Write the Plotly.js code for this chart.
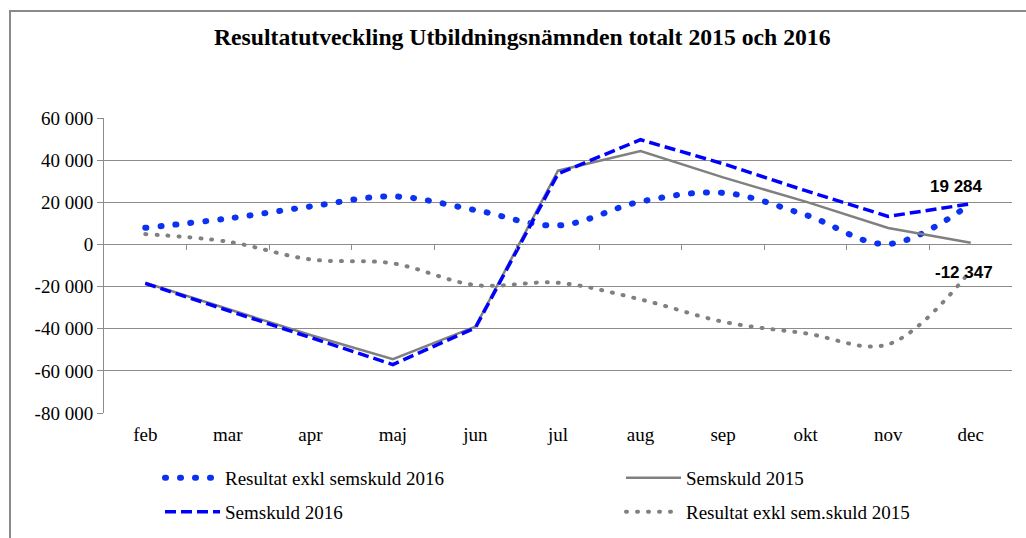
<!DOCTYPE html>
<html>
<head>
<meta charset="utf-8">
<script src="https://cdn.plot.ly/plotly-3.0.1.min.js"></script>
<style>
  html, body { margin: 0; padding: 0; background: #fff; }
  #wrap { position: relative; width: 1026px; height: 538px; overflow: hidden; }
  #chart { width: 1026px; height: 538px; }
  #frame { position: absolute; left: 9px; top: 10px; width: 1100px; height: 600px;
           border-left: 2px solid #8a8a8a; border-top: 2px solid #8a8a8a; pointer-events: none; }
  path.js-line[style*="dasharray: 1px"] { stroke-linecap: round; }
</style>
</head>
<body>
<div id="wrap">
  <div id="chart"></div>
  <div id="frame"></div>
</div>
<script>
const months = ['feb', 'mar', 'apr', 'maj', 'jun', 'jul', 'aug', 'sep', 'okt', 'nov', 'dec'];
const resultat2016 = [7900, 12300, 18000, 22800, 16300, 9000, 20300, 24500, 14000, 200, 19284];
const semskuld2015 = [-18200, -30500, -43000, -54500, -39000, 35000, 44300, 31800, 20300, 7800, 800];
const semskuld2016 = [-18500, -31300, -44300, -57000, -39500, 33500, 49700, 38300, 25500, 13300, 19284];
const resultat2015 = [4900, 1300, -7100, -9000, -19300, -18200, -26100, -36700, -42200, -47400, -12347];
const yTickVals = [60000, 40000, 20000, 0, -20000, -40000, -60000, -80000];
const yTickText = ['60 000', '40 000', '20 000', '0', '-20 000', '-40 000', '-60 000', '-80 000'];
const seriesNames = ['Resultat exkl semskuld 2016', 'Semskuld 2015', 'Semskuld 2016', 'Resultat exkl sem.skuld 2015'];
const titleText = 'Resultatutveckling Utbildningsnämnden totalt 2015 och 2016';

const yRange = [-80000, 60000];
const serif = 'Liberation Serif, Times New Roman, serif';

function fmt(v) {
  const s = Math.abs(v).toString().replace(/\B(?=(\d{3})+(?!\d))/g, ' ');
  return (v < 0 ? '-' : '') + s;
}

const last = months.length - 1;
const monthIdx = months.map((m, i) => i);
const boundaries = months.slice(1).map((m, i) => i + 0.5);

const traces = [
  { x: months, y: resultat2016, name: seriesNames[0], type: 'scatter', mode: 'lines',
    line: { color: '#0a32f0', width: 6, dash: '1px,14px', shape: 'spline', smoothing: 1 }, legend: 'legend' },
  { x: months, y: semskuld2015, name: seriesNames[1], type: 'scatter', mode: 'lines',
    line: { color: '#808080', width: 2.5 }, legend: 'legend2' },
  { x: months, y: semskuld2016, name: seriesNames[2], type: 'scatter', mode: 'lines',
    line: { color: '#0000ff', width: 3.5, dash: '11px,5px' }, legend: 'legend3' },
  { x: months, y: resultat2015, name: seriesNames[3], type: 'scatter', mode: 'lines',
    line: { color: '#808080', width: 4, dash: '1px,10px', shape: 'spline', smoothing: 1 }, legend: 'legend4' },
  // empty helper so the zero-line tick axis (xaxis2) is drawn; it draws no marks
  { x: monthIdx, y: months.map(() => null), xaxis: 'x2', yaxis: 'y', type: 'scatter', mode: 'lines',
    showlegend: false, hoverinfo: 'skip' }
];

const legendCommon = {
  orientation: 'h', xanchor: 'left', yanchor: 'middle', itemwidth: 55,
  xref: 'container', yref: 'container',
  font: { family: serif, size: 19, color: '#000' },
  bgcolor: 'rgba(0,0,0,0)', borderwidth: 0
};
const col1 = 160 / 1026, col2 = 621 / 1026;
const row1 = 1 - 478 / 538, row2 = 1 - 512 / 538;

const layout = {
  width: 1026, height: 538,
  margin: { l: 104, r: 14, t: 118, b: 125 },
  paper_bgcolor: '#fff', plot_bgcolor: '#fff',
  showlegend: true,
  title: { text: '<b>' + titleText + '</b>', x: 0.509, xref: 'container', xanchor: 'center',
           y: 1 - 37 / 538, yref: 'container', yanchor: 'middle',
           font: { family: serif, size: 23.7, color: '#000' } },
  xaxis: { type: 'category', categoryarray: months, range: [-0.5, last + 0.5], automargin: false,
           showgrid: false, showline: false, zeroline: false,
           ticks: 'outside', ticklen: 4, tickcolor: 'rgba(0,0,0,0)',
           tickfont: { family: serif, size: 19, color: '#000' } },
  xaxis2: { overlaying: 'x', anchor: 'free', position: (0 - yRange[0]) / (yRange[1] - yRange[0]),
            side: 'bottom', range: [-0.5, last + 0.5], tickmode: 'array', tickvals: boundaries,
            ticks: 'outside', ticklen: 5, tickwidth: 1, tickcolor: '#8c8c8c', automargin: false,
            showticklabels: false, showgrid: false, showline: false, zeroline: false },
  yaxis: { range: yRange, tickmode: 'array', tickvals: yTickVals, ticktext: yTickText, automargin: false,
           showgrid: true, gridcolor: '#8c8c8c', gridwidth: 1, zeroline: false,
           showline: true, linecolor: '#8c8c8c', linewidth: 1,
           ticks: 'outside', ticklen: 6, tickcolor: '#8c8c8c',
           tickfont: { family: serif, size: 19, color: '#000' } },
  legend: Object.assign({}, legendCommon, { x: col1, y: row1 }),
  legend2: Object.assign({}, legendCommon, { x: col2, y: row1 }),
  legend3: Object.assign({}, legendCommon, { x: col1, y: row2 }),
  legend4: Object.assign({}, legendCommon, { x: col2, y: row2 }),
  annotations: [
    { x: months[last], y: resultat2016[last], xref: 'x', yref: 'y', text: '<b>' + fmt(resultat2016[last]) + '</b>',
      showarrow: false, xshift: -14, yshift: 17,
      font: { family: 'Liberation Sans, Arial, sans-serif', size: 17, color: '#000' } },
    { x: months[last], y: resultat2015[last], xref: 'x', yref: 'y', text: '<b>' + fmt(resultat2015[last]) + '</b>',
      showarrow: false, xshift: -7, yshift: -2,
      font: { family: 'Liberation Sans, Arial, sans-serif', size: 17, color: '#000' } }
  ]
};

Plotly.newPlot('chart', traces, layout, { displayModeBar: false, staticPlot: true });
</script>
</body>
</html>
